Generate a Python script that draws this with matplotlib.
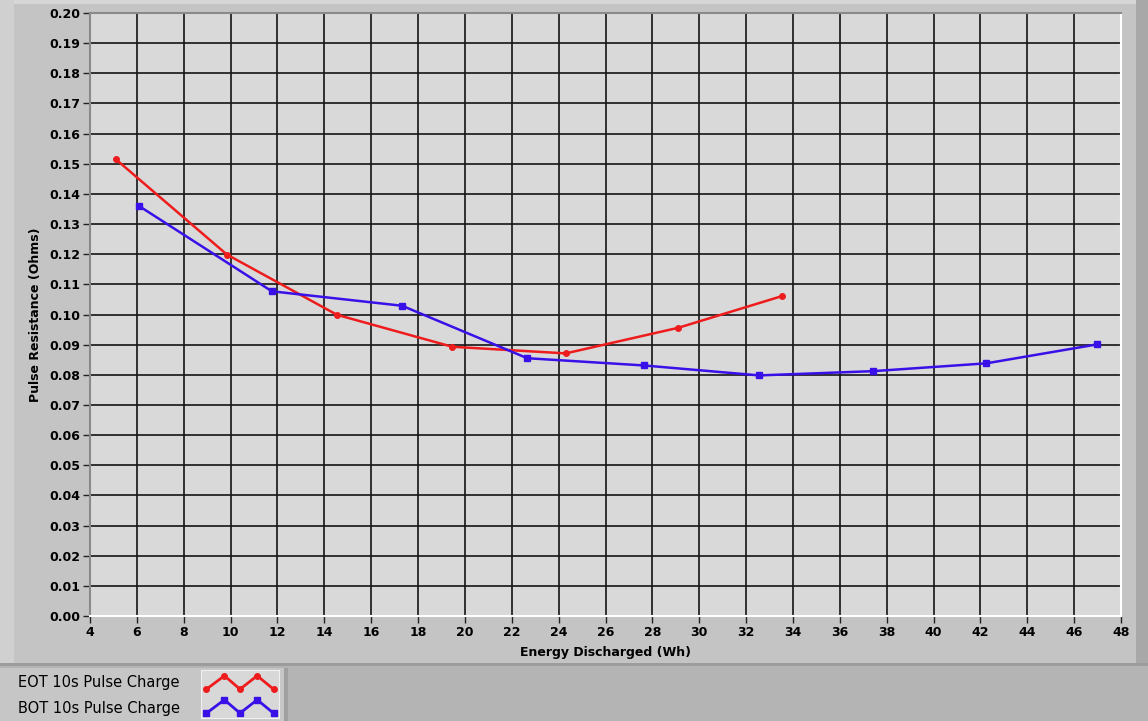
import matplotlib.pyplot as plt
from matplotlib.patches import Rectangle
import numpy as np

# EOT 10s Pulse Charge
eot_energy = [5.1, 9.84, 14.54, 19.46, 24.3, 29.11, 33.53]
eot_resist = [0.1515, 0.1199, 0.0999, 0.0893, 0.0871, 0.0956, 0.1061]

# BOT 10s Pulse Charge
bot_energy = [6.09, 11.76, 17.32, 22.66, 27.64, 32.56, 37.4, 42.25, 46.99]
bot_resist = [0.1360, 0.1077, 0.1029, 0.0855, 0.0831, 0.0798, 0.0812, 0.0838, 0.0901]

series_names = ['EOT 10s Pulse Charge', 'BOT 10s Pulse Charge']
x_ticks = list(range(4, 49, 2))
y_ticks = [i / 100 for i in range(0, 21)]

W, H = 1148, 721
fig = plt.figure(figsize=(W / 100, H / 100), dpi=100)
fig.patch.set_facecolor('#b4b4b4')

def px_rect(x0, y0, x1, y1, color):
    fig.patches.append(Rectangle((x0 / W, 1 - y1 / H), (x1 - x0) / W, (y1 - y0) / H,
                                 transform=fig.transFigure, facecolor=color,
                                 edgecolor='none', zorder=-10))

# graph panel
px_rect(0, 0, 1148, 666, '#c4c4c4')
px_rect(0, 0, 1148, 4, '#d6d6d6')
px_rect(0, 0, 14, 666, '#d0d0d0')
px_rect(1136, 0, 1148, 666, '#a8a8a8')
px_rect(0, 663, 1148, 666, '#9c9c9c')
# legend panel
px_rect(0, 668, 288, 721, '#c6c6c6')
px_rect(284, 668, 288, 721, '#a0a0a0')

red = '#ee1c1c'
blue = '#3a10e8'

ax = fig.add_axes([90 / W, 1 - 616 / H, (1121 - 90) / W, (616 - 13) / H])
ax.set_facecolor('#d9d9d9')
ax.plot(eot_energy, eot_resist, color=red, lw=1.8, marker='o', ms=4, zorder=3)
ax.plot(bot_energy, bot_resist, color=blue, lw=1.8, marker='s', ms=3.8, zorder=3)

ax.set_xlim(4, 48)
ax.set_ylim(0, 0.2)
ax.set_xticks(x_ticks)
ax.set_yticks(y_ticks)
ax.set_xticklabels([str(v) for v in x_ticks])
ax.set_yticklabels([f'{v:.2f}' for v in y_ticks])
ax.grid(True, color='#151515', lw=1.2)
ax.set_axisbelow(True)
ax.tick_params(direction='out', length=5, width=1, color='#222222', labelsize=9, pad=2)
for lab in ax.get_xticklabels() + ax.get_yticklabels():
    lab.set_fontweight('bold')
ax.spines['left'].set_color('#8a8a8a')
ax.spines['top'].set_color('#8a8a8a')
ax.spines['bottom'].set_color('white')
ax.spines['right'].set_color('white')
for s in ax.spines.values():
    s.set_linewidth(1.5)

ax.set_xlabel('Energy Discharged (Wh)', fontsize=9, fontweight='bold', labelpad=5)
ax.set_ylabel('Pulse Resistance (Ohms)', fontsize=9, fontweight='bold', labelpad=5)

# legend
fig.text(18 / W, 1 - 682 / H, series_names[0], fontsize=10.5, va='center', ha='left')
fig.text(18 / W, 1 - 708 / H, series_names[1], fontsize=10.5, va='center', ha='left')
lax = fig.add_axes([201 / W, 1 - 718 / H, 78 / W, 48 / H])
lax.set_facecolor('#d8d8d8')
lax.set_xlim(0, 1)
lax.set_ylim(0, 1)
lax.set_xticks([])
lax.set_yticks([])
for s in lax.spines.values():
    s.set_color('#f0f0f0')
zx = np.array([0.07, 0.3, 0.5, 0.72, 0.93])
zy = np.array([0, 1, 0, 1, 0]) * 0.28
lax.plot(zx, zy + 0.6, color=red, lw=2, marker='o', ms=4)
lax.plot(zx, zy + 0.1, color=blue, lw=2, marker='s', ms=4)

fig.savefig('out.png', dpi=100, facecolor=fig.get_facecolor())
